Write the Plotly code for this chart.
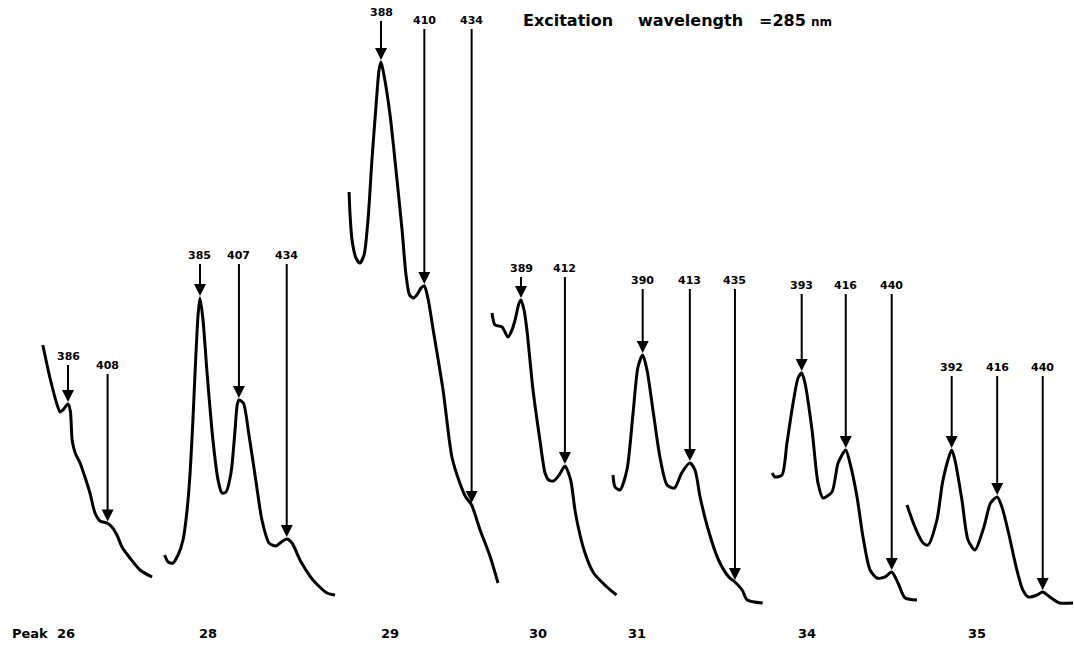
import numpy as np
import plotly.graph_objects as go

W, H = 1074, 648

# ---------------- data (wavelength in nm, relative fluorescence intensity) ----------------
peak_names = ["26", "28", "29", "30", "31", "34", "35"]

wl_26 = [372, 376, 380, 381.6, 383.2, 386, 387.3, 388.3, 390, 392.7, 395.4, 398.2, 401, 403.8,
         407.7, 410.4, 413.2, 416, 420.4, 426, 432.7]
in_26 = [263, 230, 203, 196, 198, 204, 197, 168, 155, 145, 131, 115, 95, 87,
         85, 81, 73, 61, 50, 38, 31]
peaks_26 = [386, 408]

wl_28 = [365, 367, 369.7, 372.6, 375.4, 377.7, 379.4, 381, 382.2, 383.9, 385, 386.7, 389, 392.3,
         395.2, 397.4, 399.7, 402.5, 404.8, 406, 407, 409.5, 412.5, 416.5, 420, 424, 428, 431,
         434, 437, 441.5, 448.8, 456.8, 461.3]
in_28 = [53, 46, 45, 53, 68, 98, 135, 188, 235, 293, 310, 288, 235, 168,
         128, 115, 116, 135, 178, 203, 208, 205, 175, 128, 88, 65, 62, 66,
         69, 65, 48, 28, 15, 13]
peaks_28 = [385, 407, 434]

wl_29 = [371.8, 372.3, 373.3, 375.3, 377.3, 379.4, 381.4, 383.4, 385.5, 387, 388, 389.5, 392.6,
         395.6, 398.7, 400.7, 402.5, 404.5, 406.5, 408.3, 410, 412, 414.5, 419.5, 424, 428, 431,
         434, 438.3, 443.3, 447.4]
in_29 = [416, 393, 368, 350, 345, 353, 388, 448, 503, 538, 546, 533, 493,
         438, 378, 333, 313, 310, 314, 320, 322, 308, 278, 218, 151, 125, 111,
         103, 78, 52, 25]
peaks_29 = [388, 410, 434]

wl_30 = [373.8, 375.4, 379.1, 382.2, 384.3, 385.9, 388, 389, 390.6, 392.1, 395.3, 398.9, 401.6,
         403.5, 406, 409, 412, 415, 417.5, 422, 427, 434, 439]
in_30 = [295, 283, 281, 271, 278, 288, 305, 308, 298, 278, 218, 168, 135,
         128, 127, 133, 142, 128, 95, 58, 35, 21, 13]
peaks_30 = [389, 412]

wl_31 = [375.5, 376.5, 378.9, 382.3, 385.3, 387.7, 390, 392.1, 395, 398.4, 401.9, 405.5, 409,
         413, 415.5, 418, 422, 427, 432, 435, 438.5, 441, 448.5]
in_31 = [133, 121, 118, 138, 195, 241, 253, 238, 198, 151, 123, 120, 135,
         145, 138, 111, 78, 48, 31, 26, 18, 8, 5]
peaks_31 = [390, 413, 435]

wl_34 = [377.5, 379.1, 382.7, 385.3, 388.5, 391.1, 393, 394.7, 398.4, 401.5, 404.1, 408.8, 412,
         416, 418.2, 421.9, 425, 428.7, 432.3, 436.5, 440, 443.3, 447, 453.2]
in_34 = [135, 131, 133, 165, 205, 230, 235, 225, 178, 125, 110, 116, 145,
         158, 145, 111, 71, 38, 30, 31, 36, 25, 10, 8]
peaks_34 = [393, 416, 440]

wl_35 = [368.4, 372.6, 376.9, 379.5, 384.2, 387.4, 392, 393.7, 397.4, 400.6, 404.3, 409, 412.5,
         416, 418.5, 422, 426, 429.5, 432.5, 437, 440, 444.5, 449, 456]
in_35 = [103, 81, 65, 63, 88, 128, 158, 148, 108, 68, 58, 81, 105,
         111, 101, 75, 41, 18, 11, 13, 16, 10, 5, 5]
peaks_35 = [392, 416, 440]

wavelengths = [wl_26, wl_28, wl_29, wl_30, wl_31, wl_34, wl_35]
intensities = [in_26, in_28, in_29, in_30, in_31, in_34, in_35]
peak_marks = [peaks_26, peaks_28, peaks_29, peaks_30, peaks_31, peaks_34, peaks_35]

# ---------------- layout of the panels (pixel anchors, scale, extents) ----------------
# (pixel of first marked wavelength, px per nm, left px, right px)
panel_geom = [
    (68.0, 1.80, 30, 160),
    (200.0, 1.77, 155, 345),
    (381.0, 1.97, 340, 505),
    (521.0, 1.91, 485, 622),
    (642.7, 2.05, 605, 765),
    (801.7, 1.915, 765, 925),
    (951.7, 1.896, 900, 1074),
]
# height (intensity units) of each arrow label
label_heights = [
    [252, 243],
    [353, 353, 353],
    [596, 588, 588],
    [340, 340],
    [328, 328, 328],
    [323, 323, 323],
    [241, 241, 241],
]
name_x_px = [66, 208, 390, 538, 637, 807, 977]

Y_TOP = 608
Y_BOT = Y_TOP - H

FONT = "DejaVu Sans"

fig = go.Figure()
layout_axes = {}
annotations = []

for k in range(7):
    ax_id = "x" if k == 0 else f"x{k+1}"
    ax_key = "xaxis" if k == 0 else f"xaxis{k+1}"
    p1, s, L, R = panel_geom[k]
    w1 = peak_marks[k][0]
    layout_axes[ax_key] = dict(
        domain=[L / W, R / W],
        range=[w1 + (L - p1) / s, w1 + (R - p1) / s],
        visible=False, showgrid=False, zeroline=False, anchor="y",
    )
    fig.add_trace(go.Scatter(
        x=wavelengths[k], y=intensities[k], xaxis=ax_id, yaxis="y",
        mode="lines", line=dict(color="black", width=3, shape="spline", smoothing=0.7),
        showlegend=False, hoverinfo="skip", cliponaxis=False,
    ))
    for j, pw in enumerate(peak_marks[k]):
        tip = float(np.interp(pw, wavelengths[k], intensities[k]))
        annotations.append(dict(
            x=pw, y=tip, xref=ax_id, yref="y",
            ax=pw, ay=label_heights[k][j], axref=ax_id, ayref="y",
            text=f"<b>{pw}</b>", showarrow=True,
            arrowhead=2, arrowsize=1.2, arrowwidth=2, arrowcolor="black",
            standoff=2, startstandoff=1,
            font=dict(family=FONT, size=11, color="black"),
        ))
    annotations.append(dict(
        x=name_x_px[k] / W, y=1 - 633 / H, xref="paper", yref="paper",
        text=f"<b>{peak_names[k]}</b>", showarrow=False, xanchor="center", yanchor="middle",
        font=dict(family=FONT, size=13, color="black"),
    ))

annotations.append(dict(
    x=10 / W, y=1 - 633 / H, xref="paper", yref="paper", text="<b>Peak</b>",
    showarrow=False, xanchor="left", yanchor="middle",
    font=dict(family=FONT, size=13, color="black"),
))
for txt, xpx in [("<b>Excitation</b>", 521), ("<b>wavelength</b>", 636),
                 ("<b>=285</b> <b style='font-size:12px'>nm</b>", 757)]:
    annotations.append(dict(
        x=xpx / W, y=1 - 20 / H, xref="paper", yref="paper", text=txt,
        showarrow=False, xanchor="left", yanchor="middle",
        font=dict(family=FONT, size=16, color="black"),
    ))

fig.update_layout(
    width=W, height=H, margin=dict(l=0, r=0, t=0, b=0),
    paper_bgcolor="white", plot_bgcolor="rgba(0,0,0,0)",
    yaxis=dict(domain=[0, 1], range=[Y_BOT, Y_TOP], visible=False, showgrid=False,
               zeroline=False, anchor="x"),
    annotations=annotations,
    showlegend=False,
    **layout_axes,
)

fig.write_html("out.html")
